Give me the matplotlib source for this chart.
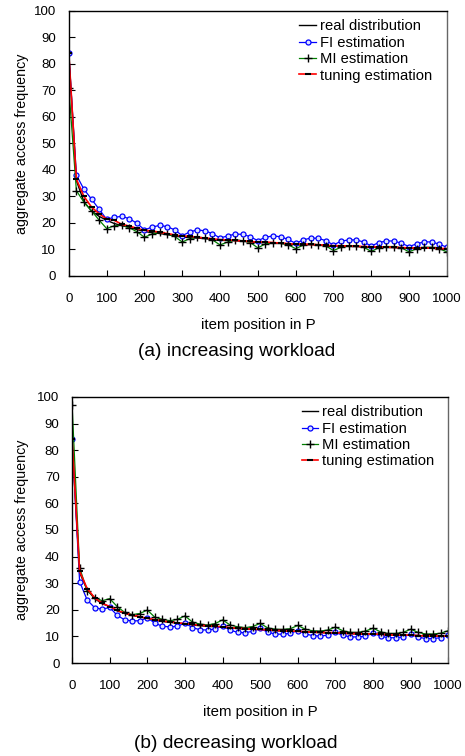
import numpy as np
import matplotlib
matplotlib.use("Agg")
import matplotlib.pyplot as plt

plt.rcParams['font.family'] = ['Liberation Sans', 'DejaVu Sans']

# item positions, one sample every 20 items
positions = list(range(0, 1001, 20))

# (a) increasing workload
real_a = [84, 36, 28, 24.5, 22.5, 21, 19.8, 19, 18.3, 17.5, 16.8, 16.3, 16, 15.6, 15.2, 14.6,
          14.5, 14.3, 14.1, 13.8, 13.4, 13.4, 13.3, 13.1, 12.9, 12.5, 12.6, 12.5, 12.3, 12.1,
          11.8, 11.9, 11.8, 11.7, 11.5, 11.2, 11.3, 11.2, 11.1, 11, 10.7, 10.9, 10.8, 10.7,
          10.6, 10.4, 10.5, 10.5, 10.4, 10.3, 10.1]
fi_a = [84, 38.1, 32.7, 29, 25.2, 21.4, 22.1, 22.5, 21.6, 19.9, 17.4, 18.4, 19.1, 18.6, 17.4,
        15.2, 16.6, 17.4, 17.0, 16.0, 14.3, 15.1, 15.8, 15.7, 14.8, 13.3, 14.6, 15.1, 14.8,
        13.8, 12.3, 13.6, 14.3, 14.2, 13.3, 11.7, 13.1, 13.6, 13.6, 12.8, 11.3, 12.6, 13.2,
        13.2, 12.3, 11.1, 12.1, 12.9, 12.8, 12.0, 10.8]
mi_a = [71, 32.2, 27.8, 24.6, 21.1, 17.9, 18.9, 19.2, 18.2, 16.7, 14.6, 15.8, 16.5, 15.8, 14.9,
        12.8, 14.1, 14.6, 14.3, 13.6, 11.7, 12.8, 13.6, 13.3, 12.6, 10.6, 12.1, 12.6, 12.3,
        11.8, 10.3, 11.6, 12.0, 11.8, 11.3, 9.6, 10.8, 11.3, 11.3, 10.8, 9.3, 10.6, 11.1, 11.1,
        10.6, 9.1, 10.3, 10.8, 10.8, 10.3, 9.1]
tuning_a = [84, 36.5, 30, 26, 23.5, 21.5, 21, 19.5, 18.8, 18, 17.2, 17, 16.5, 16, 15.5, 15, 15,
            14.6, 14.3, 14, 13.7, 13.6, 13.4, 13.2, 13, 12.8, 12.8, 12.6, 12.4, 12.2, 12, 12,
            11.9, 11.8, 11.6, 11.4, 11.4, 11.3, 11.2, 11.1, 11, 11, 10.9, 10.8, 10.7, 10.6,
            10.6, 10.6, 10.5, 10.4, 10.3]

# (b) decreasing workload
real_b = [84, 34, 27.5, 24.2, 22.3, 21.2, 19.6, 18.6, 17.9, 17.3, 16.8, 16.1, 15.6, 15.3, 15,
          14.8, 14.3, 14, 13.8, 13.6, 13.6, 13.2, 12.9, 12.7, 12.6, 12.6, 12.3, 12.1, 12, 11.9,
          11.9, 11.7, 11.5, 11.4, 11.3, 11.4, 11.2, 11, 10.9, 10.9, 10.9, 10.7, 10.5, 10.5,
          10.4, 10.5, 10.3, 10.2, 10.1, 10.1, 10.1]
fi_b = [84, 30.6, 23.7, 20.8, 20.2, 20.9, 17.9, 16.2, 15.8, 15.9, 17.0, 15.0, 13.8, 13.6, 13.8,
        15.0, 13.3, 12.5, 12.4, 12.8, 13.9, 12.4, 11.5, 11.4, 11.9, 13.0, 11.6, 10.9, 10.8,
        11.2, 12.2, 10.9, 10.3, 10.1, 10.5, 11.5, 10.4, 9.8, 9.8, 10.1, 11.2, 10.1, 9.5, 9.5,
        9.8, 10.8, 9.7, 9.2, 9.2, 9.5, 10.4]
mi_b = [97, 35.8, 27.2, 24.6, 23.4, 24.2, 21.2, 19.0, 18.2, 18.6, 19.9, 17.2, 16.4, 15.9, 16.4,
        17.7, 15.4, 14.6, 14.3, 14.8, 16.2, 14.3, 13.6, 13.3, 13.7, 14.9, 13.2, 12.7, 12.6,
        12.9, 14.1, 12.7, 12.1, 12.0, 12.4, 13.5, 12.1, 11.5, 11.5, 12.0, 13.1, 11.7, 11.1,
        11.1, 11.5, 12.7, 11.5, 10.9, 10.9, 11.2, 12.2]
tuning_b = [84, 34.5, 28, 24.5, 22.5, 21.2, 19.8, 18.8, 18, 17.4, 16.8, 16.3, 15.8, 15.4, 15.1,
            14.8, 14.5, 14.2, 14, 13.8, 13.6, 13.3, 13.1, 12.9, 12.7, 12.6, 12.4, 12.3, 12.1,
            12, 11.9, 11.8, 11.6, 11.5, 11.4, 11.4, 11.2, 11.1, 11, 10.9, 10.9, 10.8, 10.6,
            10.5, 10.5, 10.5, 10.3, 10.2, 10.2, 10.1, 10.1]

x_ticks = list(range(0, 1001, 100))
y_ticks = list(range(0, 101, 10))


def draw_panel(ax, real, fi, mi, tuning, ylab_x):
    ax.plot(positions, real, color='black', lw=1.0, label='real distribution')
    ax.plot(positions, fi, color='blue', lw=0.9, marker='o', ms=3.6, mfc='#dde4ff',
            mec='blue', mew=0.9, label='FI estimation')
    ax.plot(positions, mi, color='green', lw=0.9, marker='+', ms=5.8, mec='black',
            mew=1.0, label='MI estimation')
    ax.plot(positions, tuning, color='red', lw=1.2, marker='_', ms=4, mec='black',
            mew=1.5, label='tuning estimation')

    ax.set_xlim(0, 1000)
    ax.set_ylim(0, 100)
    ax.set_xticks(x_ticks)
    ax.set_yticks(y_ticks)
    ax.tick_params(direction='in', length=4, width=0.8, labelsize=9.5)
    ax.tick_params(axis='x', pad=12)
    ax.tick_params(axis='y', pad=9)
    for s in ax.spines.values():
        s.set_linewidth(1.0)
    ax.spines['right'].set_color('#666666')

    ax.set_xlabel('item position in P', fontsize=10.8)
    ax.set_ylabel('aggregate access frequency', fontsize=10.3)
    ax.xaxis.set_label_coords(0.5, -0.158)
    ax.yaxis.set_label_coords(ylab_x, 0.5)
    ax.legend(loc='upper left', frameon=False, fontsize=10.6, handlelength=1.1,
              handletextpad=0.3, labelspacing=0.16, borderpad=0, borderaxespad=0,
              bbox_to_anchor=(0.61, 0.968))


def main():
    fig = plt.figure(figsize=(4.65, 7.56), dpi=100)
    ax1 = fig.add_axes([0.148, 0.635, 0.813, 0.3505])
    ax2 = fig.add_axes([0.155, 0.123, 0.809, 0.352])

    draw_panel(ax1, real_a, fi_a, mi_a, tuning_a, -0.106)
    draw_panel(ax2, real_b, fi_b, mi_b, tuning_b, -0.114)

    fig.text(0.508, 1 - 352 / 756, '(a) increasing workload', ha='center', va='center',
             fontsize=13.8)
    fig.text(0.508, 1 - 743 / 756, '(b) decreasing workload', ha='center', va='center',
             fontsize=13.8)

    fig.savefig('out.png', dpi=100)


if __name__ == '__main__':
    main()
